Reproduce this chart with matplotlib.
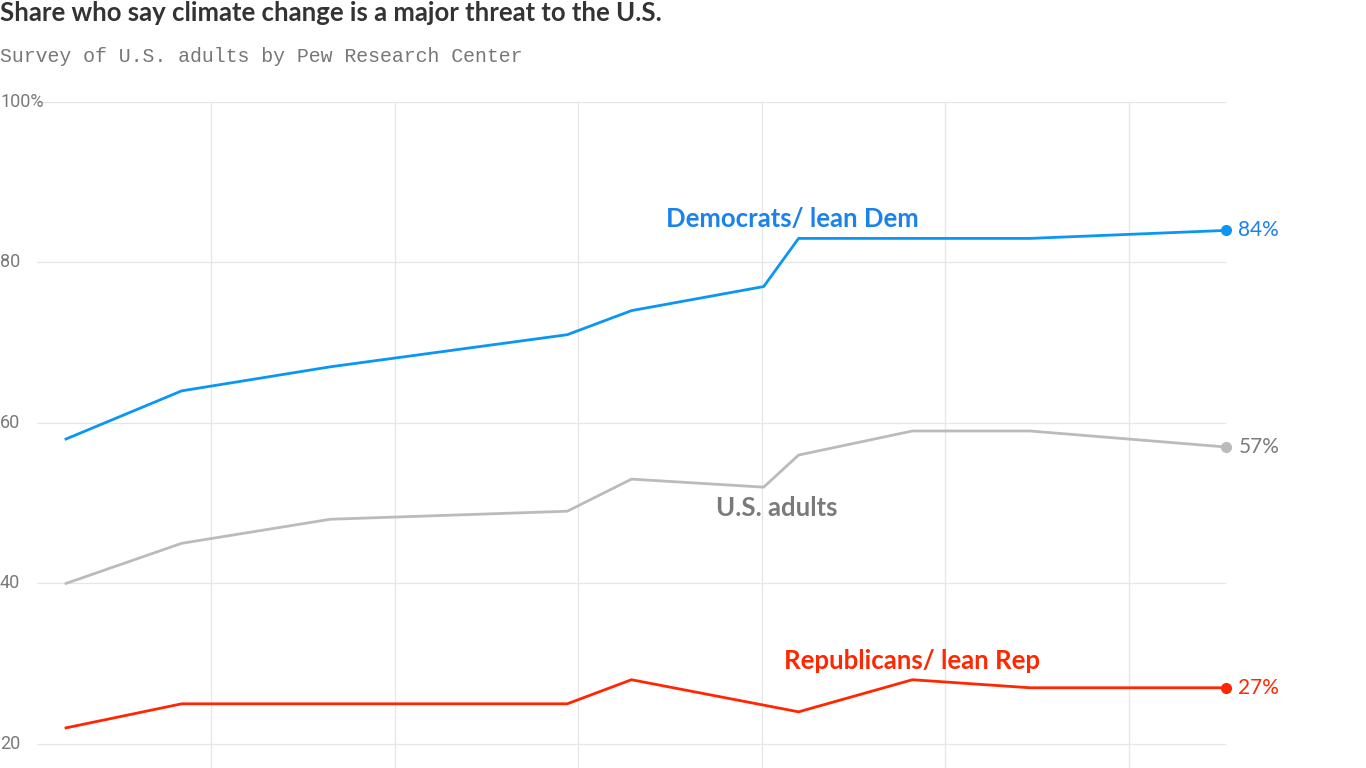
import matplotlib
matplotlib.use("Agg")
from matplotlib import pyplot as plt
from matplotlib.transforms import blended_transform_factory

# survey dates as fractional years, values in percent
dates = [2009.21, 2009.84, 2010.65, 2011.94, 2012.29, 2013.01, 2013.20, 2013.82, 2014.46, 2015.53]
dem = [58, 64, 67, 71, 74, 77, 83, 83, 83, 84]
adults = [40, 45, 48, 49, 53, 52, 56, 59, 59, 57]
rep_dates = [2009.21, 2009.84, 2010.65, 2011.94, 2012.29, 2013.20, 2013.82, 2014.46, 2015.53]
rep = [22, 25, 25, 25, 28, 24, 28, 27, 27]

y_ticks = [20, 40, 60, 80, 100]
y_labels = ["20", "40", "60", "80", "100%"]
x_grid = [2010, 2011, 2012, 2013, 2014, 2015]

blue = "#0a96f5"
blue_text = "#1a82ea"
gray = "#bbbbbb"
gray_text = "#7a7a7a"
red = "#ff2600"

W, H = 1366, 768
fig = plt.figure(figsize=(W / 100, H / 100), dpi=100)
ax = fig.add_axes([37 / W, 0, (1226 - 37) / W, (768 - 102) / H])
ax.set_xlim(2009.052, 2015.528)
ax.set_ylim(17.0, 100)
for s in ax.spines.values():
    s.set_visible(False)
ax.set_xticks([])
ax.set_yticks([])

for y in y_ticks:
    ax.axhline(y, color="#e6e6e6", lw=0.9, zorder=0)
for x in x_grid:
    ax.plot([x, x], [17.0, 100], color="#e6e6e6", lw=0.9, zorder=0)

tr = blended_transform_factory(fig.transFigure, ax.transData)
for y, lab in zip(y_ticks, y_labels):
    ax.text(0.0, y, lab, transform=tr, ha="left", va="center",
            fontsize=13, color=gray_text, family="Roboto")

ax.plot(dates, adults, color=gray, lw=2, solid_joinstyle="round", zorder=2)
ax.plot(dates, dem, color=blue, lw=2, solid_joinstyle="round", zorder=3)
ax.plot(rep_dates, rep, color=red, lw=2, solid_joinstyle="round", zorder=3)

for xs, ys, c, tc in [(dates, dem, blue, blue_text), (dates, adults, gray, gray_text),
                      (rep_dates, rep, red, red)]:
    ax.plot(xs[-1], ys[-1], "o", color=c, ms=7, clip_on=False, zorder=4)
    ax.text(xs[-1] + 0.066, ys[-1], f"{ys[-1]}%", color=tc, fontsize=15,
            family="Lato", ha="left", va="center", clip_on=False)

ax.text(2013.164, 85.4, "Democrats/ lean Dem", color=blue_text, fontsize=18.5,
        family="Lato", fontweight="bold", ha="center", va="center")
ax.text(2013.083, 49.4, "U.S. adults", color=gray_text, fontsize=18.5,
        family="Lato", fontweight="bold", ha="center", va="center")
ax.text(2013.818, 30.3, "Republicans/ lean Rep", color=red, fontsize=18.5,
        family="Lato", fontweight="bold", ha="center", va="center")

fig.text(0.0, 1 - 13 / H, "Share who say climate change is a major threat to the U.S.",
         ha="left", va="center", fontsize=18.5, fontweight="bold", family="Lato", color="#333333")
fig.text(0.0, 1 - 57 / H, "Survey of U.S. adults by Pew Research Center",
         ha="left", va="center", fontsize=14.3, family="Liberation Mono", color="#777777")

fig.savefig("out.png", dpi=100)
